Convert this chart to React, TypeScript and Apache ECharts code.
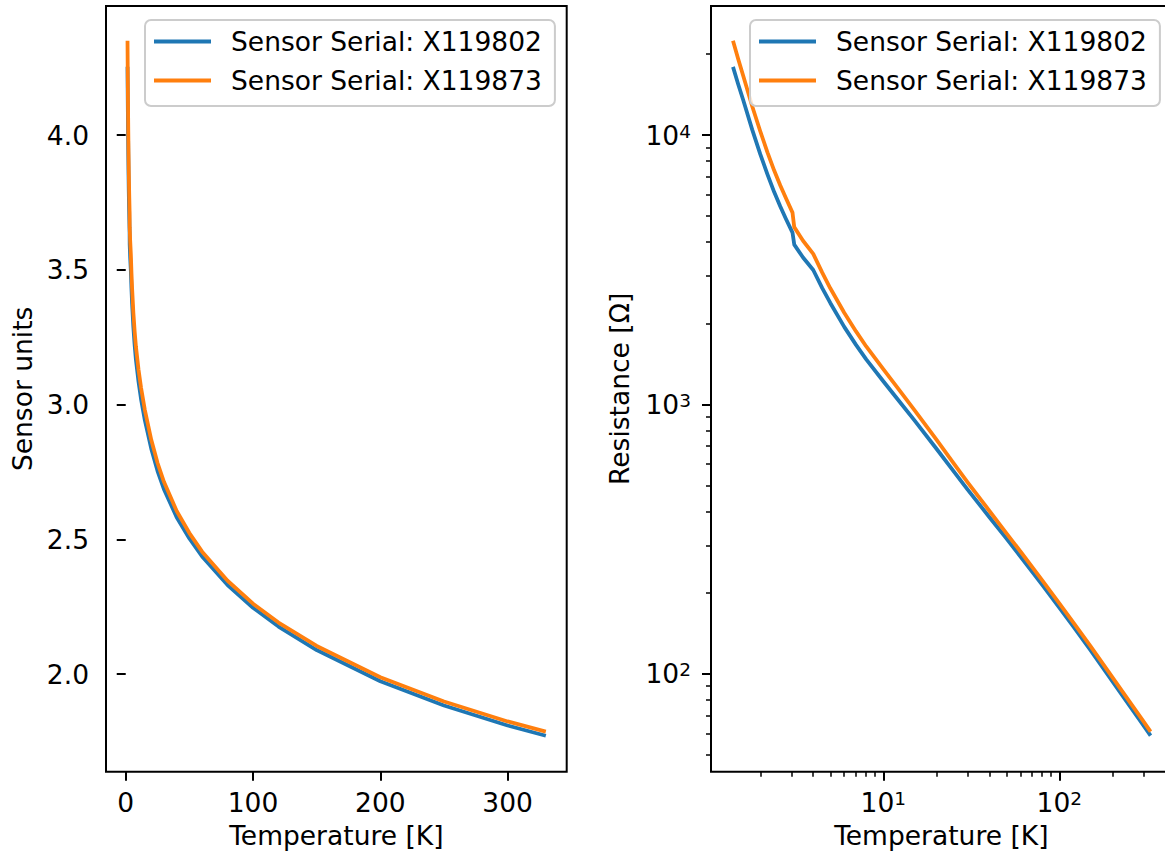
import React, { useEffect, useRef } from "react";
import * as echarts from "echarts";

const SERIES_NAMES = ["Sensor Serial: X119802", "Sensor Serial: X119873"];
const SERIES_COLORS = ["#1f77b4", "#ff7f0e"];

const temperatureK = [
  1.4, 1.5, 1.6, 1.8, 2.0, 2.2, 2.4, 2.6, 2.8, 3.05,
  3.12, 3.5, 4, 4.5, 5, 6, 7, 8, 10, 12,
  15, 20, 25, 30, 40, 50, 60, 80, 100, 120,
  150, 200, 250, 300, 330,
];

const sensorUnitsX119802 = [
  4.253, 4.188, 4.13, 4.02, 3.929, 3.853, 3.788, 3.735, 3.688, 3.637,
  3.593, 3.545, 3.499, 3.432, 3.376, 3.288, 3.221, 3.167, 3.086, 3.021,
  2.942, 2.837, 2.753, 2.686, 2.582, 2.503, 2.436, 2.33, 2.246, 2.176,
  2.089, 1.973, 1.883, 1.809, 1.771,
];

const sensorUnitsX119873 = [
  4.35, 4.281, 4.22, 4.107, 4.014, 3.935, 3.868, 3.813, 3.765, 3.712,
  3.658, 3.607, 3.559, 3.489, 3.431, 3.34, 3.271, 3.215, 3.131, 3.063,
  2.98, 2.87, 2.783, 2.713, 2.605, 2.523, 2.454, 2.346, 2.261, 2.191,
  2.104, 1.988, 1.898, 1.824, 1.786,
];

const resistanceX119802 = [
  17900, 15400, 13490, 10470, 8490, 7130, 6140, 5430, 4880, 4340,
  3920, 3510, 3155, 2700, 2380, 1940, 1663, 1469, 1219, 1050,
  874, 686, 567, 485, 382, 318, 273, 214, 176.1, 150,
  122.7, 93.9, 76.3, 64.4, 58.95,
];

const resistanceX119873 = [
  22390, 19100, 16600, 12790, 10330, 8610, 7380, 6500, 5820, 5150,
  4550, 4050, 3622, 3083, 2698, 2188, 1866, 1641, 1352, 1156,
  954, 741, 607, 516, 403, 333, 285, 222, 182.4, 155.3,
  127, 97.2, 79, 66.7, 61,
];

const linearTempTicks = [0, 100, 200, 300];
const unitTicks = [2.0, 2.5, 3.0, 3.5, 4.0];
const logTempMajorTicks = [10, 100];
const logTempMinorTicks = [2, 3, 4, 5, 6, 7, 8, 9, 20, 30, 40, 50, 60, 70, 80, 90, 200, 300, 400];
const logResMajorTicks = [100, 1000, 10000];
const logResMinorTicks = [
  50, 60, 70, 80, 90, 200, 300, 400, 500, 600, 700, 800, 900,
  2000, 3000, 4000, 5000, 6000, 7000, 8000, 9000, 20000,
];

const FONT = "DejaVu Sans";
const FS = 26.5;

const tickStyle = { color: "#000", width: 2 };
const labelBase = { fontSize: FS, color: "#000", fontFamily: FONT, lineHeight: 27 };
const nameStyle = { fontSize: FS, color: "#000", fontFamily: FONT, lineHeight: 27 };
const powRich = {
  b: { fontSize: FS, lineHeight: 27, color: "#000", fontFamily: FONT },
  s: { fontSize: 18.5, lineHeight: 18, verticalAlign: "top", color: "#000", fontFamily: FONT },
};
const powFormatter = (v: number) => `{b|10}{s|${Math.round(Math.log10(v))}}`;

function pairs(xs: number[], ys: number[]) {
  return xs.map((x, i) => [x, ys[i]]);
}

function lineSeries(name: string, color: string, axisIndex: number, data: number[][]) {
  return {
    type: "line",
    name,
    xAxisIndex: axisIndex,
    yAxisIndex: axisIndex,
    data,
    showSymbol: false,
    symbol: "none",
    lineStyle: { width: 3.8, color, join: "round" },
    itemStyle: { color },
  };
}

function buildOption() {
  const legendCommon = {
    orient: "vertical",
    top: 20,
    icon: "rect",
    itemWidth: 57,
    itemHeight: 4,
    itemGap: 12,
    padding: [8, 13, 12, 9],
    backgroundColor: "rgba(255,255,255,0.8)",
    borderColor: "#cccccc",
    borderWidth: 2,
    borderRadius: 6,
    selectedMode: false,
    textStyle: { fontSize: FS, color: "#000", fontFamily: FONT, lineHeight: 27, padding: [0, 0, 0, 15] },
    data: SERIES_NAMES,
  };
  const minorAxisCommon = {
    type: "log",
    logBase: 10,
    axisLine: { show: false },
    axisLabel: { show: false },
    splitLine: { show: false },
    axisTick: { show: true, length: 5, lineStyle: { color: "#000", width: 1.5 } },
  };
  return {
    animation: false,
    textStyle: { fontFamily: FONT },
    grid: [
      { left: 106, top: 6, width: 460.7, height: 765.7, show: true, borderColor: "#000", borderWidth: 2, containLabel: false, outerBoundsMode: "none" },
      { left: 711, top: 6, width: 460.6, height: 765.7, show: true, borderColor: "#000", borderWidth: 2, containLabel: false, outerBoundsMode: "none" },
    ],
    legend: [
      { ...legendCommon, left: 145 },
      { ...legendCommon, left: 750 },
    ],
    xAxis: [
      {
        gridIndex: 0,
        type: "value",
        min: -15.5,
        max: 346.4,
        axisLine: { show: false },
        splitLine: { show: false },
        axisTick: { show: true, length: 9, lineStyle: tickStyle, customValues: linearTempTicks },
        axisLabel: { ...labelBase, margin: 17, customValues: linearTempTicks, formatter: (v: number) => String(v) },
        name: "Temperature [K]",
        nameLocation: "middle",
        nameGap: 50,
        nameTextStyle: nameStyle,
      },
      {
        gridIndex: 1,
        type: "log",
        logBase: 10,
        min: 1.05,
        max: 434.5,
        axisLine: { show: false },
        splitLine: { show: false },
        axisTick: { show: true, length: 9, lineStyle: tickStyle, customValues: logTempMajorTicks },
        axisLabel: { margin: 17, customValues: logTempMajorTicks, formatter: powFormatter, rich: powRich },
        name: "Temperature [K]",
        nameLocation: "middle",
        nameGap: 50,
        nameTextStyle: nameStyle,
      },
      {
        ...minorAxisCommon,
        gridIndex: 1,
        position: "bottom",
        min: 1.05,
        max: 434.5,
        axisTick: { ...minorAxisCommon.axisTick, customValues: logTempMinorTicks },
      },
    ],
    yAxis: [
      {
        gridIndex: 0,
        type: "value",
        min: 1.6375,
        max: 4.4787,
        axisLine: { show: false },
        splitLine: { show: false },
        axisTick: { show: true, length: 9, lineStyle: tickStyle, customValues: unitTicks },
        axisLabel: { ...labelBase, margin: 17, customValues: unitTicks, formatter: (v: number) => v.toFixed(1) },
        name: "Sensor units",
        nameLocation: "middle",
        nameGap: 70,
        nameTextStyle: nameStyle,
      },
      {
        gridIndex: 1,
        type: "log",
        logBase: 10,
        min: 43.3,
        max: 30130,
        axisLine: { show: false },
        splitLine: { show: false },
        axisTick: { show: true, length: 9, lineStyle: tickStyle, customValues: logResMajorTicks },
        axisLabel: { margin: 20, customValues: logResMajorTicks, formatter: powFormatter, rich: powRich },
        name: "Resistance [Ω]",
        nameLocation: "middle",
        nameGap: 78,
        nameTextStyle: nameStyle,
      },
      {
        ...minorAxisCommon,
        gridIndex: 1,
        position: "left",
        min: 43.3,
        max: 30130,
        axisTick: { ...minorAxisCommon.axisTick, customValues: logResMinorTicks },
      },
    ],
    series: [
      lineSeries(SERIES_NAMES[0], SERIES_COLORS[0], 0, pairs(temperatureK, sensorUnitsX119802)),
      lineSeries(SERIES_NAMES[1], SERIES_COLORS[1], 0, pairs(temperatureK, sensorUnitsX119873)),
      lineSeries(SERIES_NAMES[0], SERIES_COLORS[0], 1, pairs(temperatureK, resistanceX119802)),
      lineSeries(SERIES_NAMES[1], SERIES_COLORS[1], 1, pairs(temperatureK, resistanceX119873)),
    ],
  };
}

export default function App() {
  const ref = useRef<HTMLDivElement>(null);
  useEffect(() => {
    const chart = echarts.init(ref.current as HTMLDivElement, null, { renderer: "svg" });
    chart.setOption(buildOption() as any);
    return () => chart.dispose();
  }, []);
  return (
    <div
      ref={ref}
      style={{ position: "absolute", left: 0, top: 0, width: 1165, height: 860, background: "#fff" }}
    />
  );
}
